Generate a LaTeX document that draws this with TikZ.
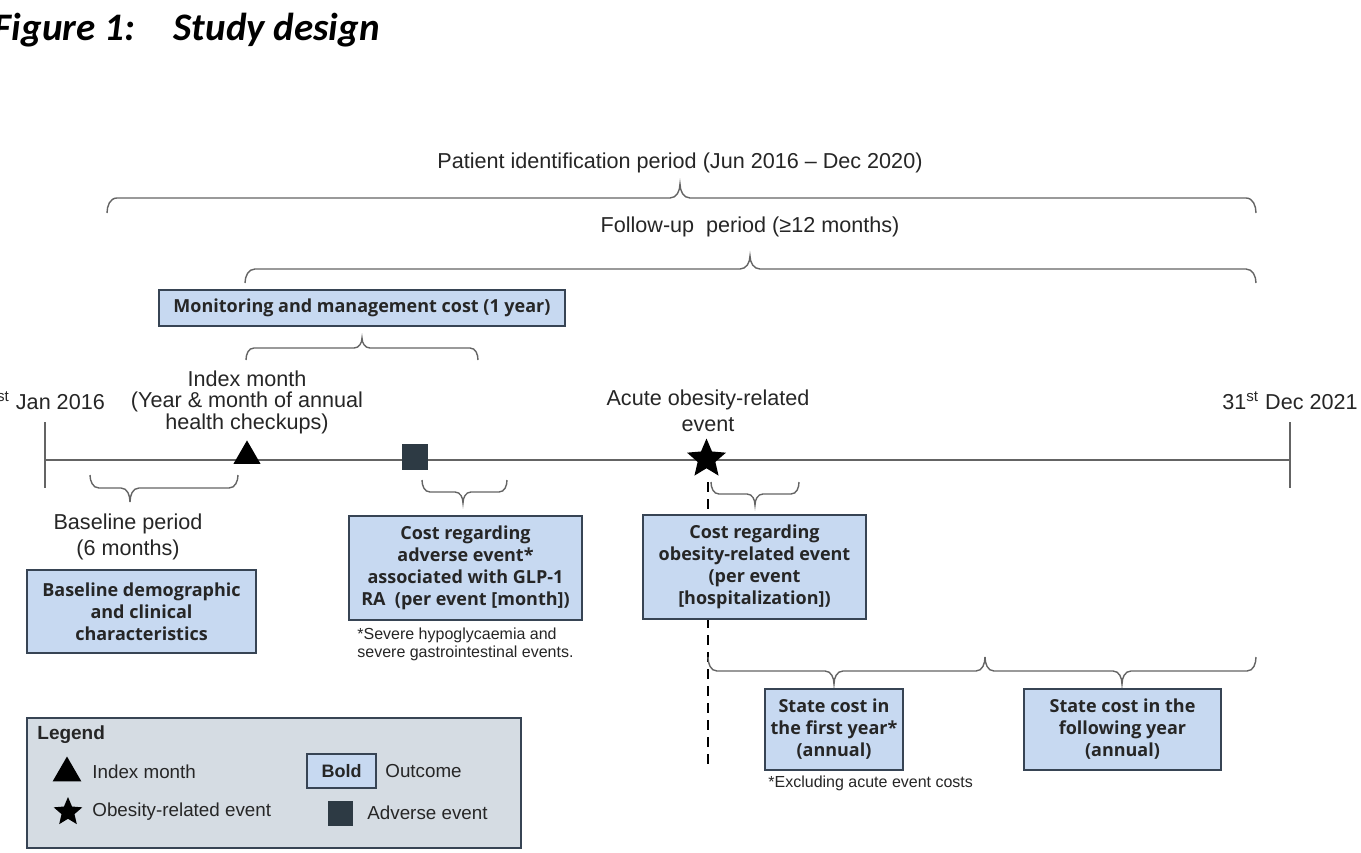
\documentclass[tikz,border=0pt]{standalone}
\usepackage{fontspec}
\setmainfont{Liberation Sans}
\newfontfamily\boxfont{Open Sans}
\newfontfamily\titlefont{Carlito}
\usetikzlibrary{shapes.geometric,calc}
\definecolor{boxfill}{RGB}{199,217,241}
\definecolor{boxline}{RGB}{55,68,84}
\definecolor{legfill}{RGB}{213,220,227}
\definecolor{txt}{RGB}{38,38,38}
\definecolor{linegray}{RGB}{100,100,100}
\definecolor{sqfill}{RGB}{45,58,68}
% up brace: ends L,R ; tip T ; #4 = arm-to-tip distance (px) ; #5 = corner reach (px)
\newcommand\ubrace[5]{%
  \draw[brc] (#1) to[out=90,in=180] ($(#1|-#3)+(#5,#4)$) -- ($(#3)+(-#5,#4)$)
    to[out=0,in=-90] (#3) to[out=-90,in=180] ($(#3)+(#5,#4)$)
    -- ($(#2|-#3)+(-#5,#4)$) to[out=0,in=90] (#2);}
% down brace
\newcommand\dbrace[5]{%
  \draw[brc] (#1) to[out=-90,in=180] ($(#1|-#3)+(#5,-#4)$) -- ($(#3)+(-#5,-#4)$)
    to[out=0,in=90] (#3) to[out=90,in=180] ($(#3)+(#5,-#4)$)
    -- ($(#2|-#3)+(-#5,-#4)$) to[out=0,in=-90] (#2);}
\begin{document}
\begin{tikzpicture}[x=0.5pt,y=-0.5pt,
  outbox/.style={draw=boxline, line width=0.8pt, fill=boxfill, align=center, inner sep=0pt, font=\boxfont\bfseries\fontsize{9}{11}\selectfont, text=txt},
  lbl/.style={align=center, inner sep=0pt, font=\fontsize{10.8}{10.75}\selectfont, text=txt},
  note/.style={align=left, inner sep=0pt, font=\fontsize{8}{9}\selectfont, text=txt},
  lg/.style={anchor=west, inner sep=0pt, font=\fontsize{9.4}{11}\selectfont, text=txt},
  brc/.style={draw=linegray, line width=0.7pt},
  tl/.style={draw=linegray, line width=1pt},
  tri/.style={regular polygon, regular polygon sides=3, fill=black, inner sep=0pt, minimum size=#1},
  starm/.style={star, star points=5, star point ratio=2.2, fill=black, inner sep=0pt, minimum size=#1},
  sqm/.style={rectangle, fill=sqfill, inner sep=0pt, minimum width=#1, minimum height=#1},
]
\useasboundingbox[fill=white] (0,0) rectangle (1361,852);

% title
\node[anchor=base east, inner sep=0pt, font=\titlefont\bfseries\itshape\fontsize{19.5}{21}\selectfont] (title) at (380,40) {Figure 1:\hspace{1em}Study design};

% top labels and braces
\node[lbl] (pip) at (680,163) {Patient identification period (Jun 2016 -- Dec 2020)};
\coordinate (pipL) at (107,213);
\coordinate (pipR) at (1256,213);
\coordinate (pipT) at (680,184);
\ubrace{pipL}{pipR}{pipT}{14}{10}

\node[lbl] (fup) at (750,227) {Follow-up\ \ period (≥12 months)};
\coordinate (fupL) at (245,283);
\coordinate (fupR) at (1256,283);
\coordinate (fupT) at (750,256);
\ubrace{fupL}{fupR}{fupT}{13}{10}

\node[outbox, minimum width=203pt, minimum height=18pt] (mon) at (362,308) {Monitoring and management cost (1 year)};
\coordinate (monL) at (246,360);
\coordinate (monR) at (478,360);
\coordinate (monT) at (362,338);
\ubrace{monL}{monR}{monT}{10}{8}

% timeline
\coordinate (t0) at (45,460);
\coordinate (t1) at (1290,460);
\coordinate (t0a) at (45,422);
\coordinate (t0b) at (45,488);
\coordinate (t1a) at (1290,422);
\coordinate (t1b) at (1290,488);
\draw[tl] (t0) -- (t1);
\draw[tl] (t0a) -- (t0b);
\draw[tl] (t1a) -- (t1b);

\node[lbl] (start) at (45,401) {1\textsuperscript{st} Jan 2016};
\node[lbl] (end) at (1290,401) {31\textsuperscript{st} Dec 2021};

\node[lbl] (idxlbl) at (247,402) {Index month\\(Year \& month of annual\\health checkups)};
\node[tri=15.6pt] (idx) at (247,456) {};

\node[sqm=13pt] (adv) at (415,457) {};

\node[lbl, font=\fontsize{10.8}{13}\selectfont] (acutelbl) at (708,411) {Acute obesity-related\\event};

% dashed line
\coordinate (dashS) at (708,482);
\coordinate (dashE) at (708,765);
\draw[black, line width=1.1pt, dash pattern=on 5pt off 3.5pt] (dashS) -- (dashE);
\node[starm=20.5pt] (acute) at (706.5,459) {};

% baseline brace
\coordinate (baseL) at (90,475);
\coordinate (baseR) at (238,475);
\coordinate (baseT) at (130,502);
\dbrace{baseL}{baseR}{baseT}{14}{9}
\node[lbl, font=\fontsize{10.8}{13}\selectfont] (baselbl) at (128,537) {Baseline period\\(6 months)};
\node[outbox, minimum width=114.5pt, minimum height=41.5pt] (basebox) at (141.5,611.5) {Baseline demographic\\and clinical\\characteristics};

% adverse event
\coordinate (advL) at (422,480);
\coordinate (advR) at (507,480);
\coordinate (advT) at (463,503);
\dbrace{advL}{advR}{advT}{11}{8}
\node[outbox, minimum width=116.5pt, minimum height=52pt] (advbox) at (465.5,568) {Cost regarding\\adverse event*\\associated with GLP-1\\RA\ \ (per event [month])};
\node[note, anchor=north west] (advnote) at (357,627) {*Severe hypoglycaemia and\\severe gastrointestinal events.};

% obesity event
\coordinate (obL) at (711,482);
\coordinate (obR) at (799,482);
\coordinate (obT) at (755,505);
\dbrace{obL}{obR}{obT}{11}{8}
\node[outbox, minimum width=111.5pt, minimum height=52pt] (obbox) at (754.5,567) {Cost regarding\\obesity-related event\\(per event\\{[}hospitalization{]})};

% state costs
\coordinate (stL) at (708,657);
\coordinate (stM) at (985,657);
\coordinate (stR) at (1256,657);
\coordinate (stT1) at (834,684);
\coordinate (stT2) at (1122,684);
\dbrace{stL}{stM}{stT1}{13}{9}
\dbrace{stM}{stR}{stT2}{13}{9}
\node[outbox, minimum width=69pt, minimum height=40.5pt] (st1) at (834,729.5) {State cost in\\the first year*\\(annual)};
\node[note, anchor=west] (st1note) at (768,783) {*Excluding acute event costs};
\node[outbox, minimum width=98.5pt, minimum height=40.5pt] (st2) at (1122.5,729.5) {State cost in the\\following year\\(annual)};

% legend
\node[draw=boxline, line width=0.8pt, fill=legfill, minimum width=247pt, minimum height=65pt, inner sep=0pt] (legend) at (274,783) {};
\node[lg, font=\bfseries\fontsize{9.5}{11}\selectfont] (legtitle) at (37,735) {Legend};
\node[tri=16.5pt] (ltri) at (67,773) {};
\node[lg] (ltritxt) at (92,772) {Index month};
\node[outbox, font=\bfseries\fontsize{9}{10}\selectfont, minimum width=34.5pt, minimum height=17pt] (lbold) at (341.5,771) {Bold};
\node[lg] (lboldtxt) at (385,771) {Outcome};
\node[starm=15pt] (lstar) at (68,812) {};
\node[lg] (lstartxt) at (92,812) {Obesity-related event};
\node[sqm=12.5pt] (lsq) at (340,813) {};
\node[lg] (lsqtxt) at (367,813) {Adverse event};
\end{tikzpicture}
\end{document}
